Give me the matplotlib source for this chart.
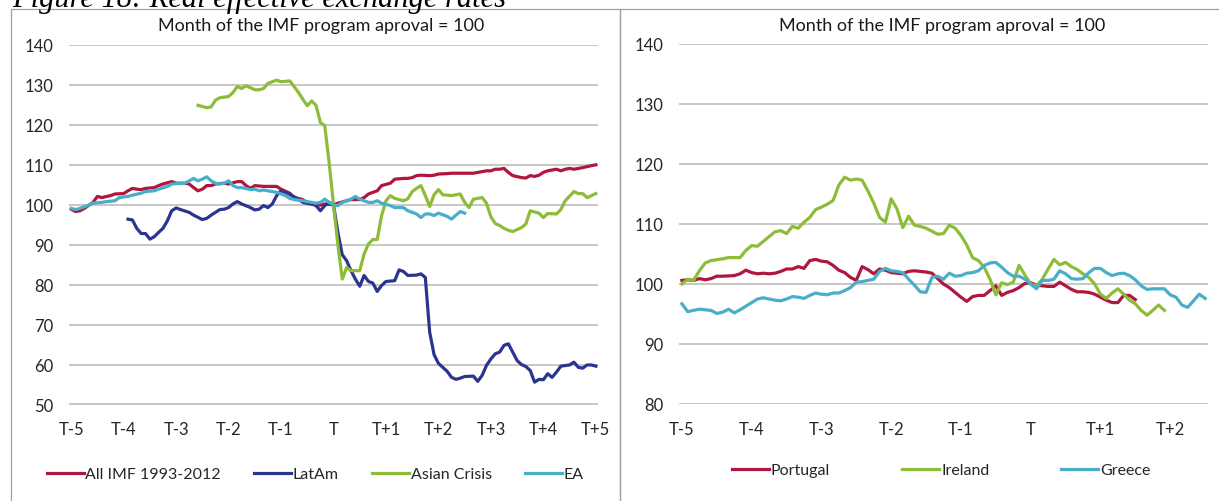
import matplotlib
matplotlib.use("Agg")
import matplotlib.pyplot as plt
from matplotlib.patches import Rectangle

plt.rcParams['font.family'] = ['Lato', 'DejaVu Sans']

# months relative to programme approval (T = 0), index = 100 at T
imf_m = [-60, -59, -58, -57, -55, -54, -53, -51, -50, -48, -47, -46, -45, -44, -43, -41, -40, -39, -37, -36,
         -34, -33, -32, -31, -30, -29, -28, -27, -25, -24, -22, -21, -20, -19, -18, -16, -14, -13, -12, -10,
         -9, -7, -6, -5, -3, -2, 0, 1, 3, 4, 6, 7, 8, 10, 11, 13, 14, 16, 17, 18,
         19, 20, 22, 23, 24, 26, 27, 29, 30, 32, 33, 35, 36, 37, 38, 39, 40, 41, 43, 44,
         45, 46, 47, 48, 49, 51, 52, 53, 54, 55, 56, 57, 59, 60]
imf_v = [98.9, 98.3, 98.5, 99.1, 100.6, 102.1, 101.8, 102.3, 102.7, 102.8, 103.5, 104.1, 103.9, 103.8, 104.1, 104.3, 104.8, 105.2, 105.8, 105.4,
         105.4, 105.2, 104.3, 103.5, 103.9, 104.8, 104.8, 105.2, 105.4, 105.2, 105.8, 105.8, 104.8, 104.1, 104.8, 104.6, 104.6, 104.6, 103.9, 102.9,
         101.8, 101.3, 100.4, 100.2, 99.9, 100.2, 100.0, 100.4, 101.0, 101.3, 101.3, 101.8, 102.7, 103.5, 104.8, 105.4, 106.4, 106.6, 106.6, 106.8,
         107.3, 107.4, 107.3, 107.4, 107.7, 107.8, 107.9, 107.9, 107.9, 107.9, 108.1, 108.5, 108.5, 108.9, 108.9, 109.1, 108.1, 107.3, 106.8, 106.7,
         107.3, 107.1, 107.4, 108.1, 108.5, 108.9, 108.5, 108.9, 109.1, 108.9, 109.1, 109.3, 109.8, 110.0]

latam_m = [-47, -46, -45, -44, -43, -42, -41, -40, -39, -38, -37, -36, -35, -33, -32, -30, -29, -28, -26, -25,
           -24, -23, -22, -21, -19, -18, -17, -16, -15, -14, -13, -12, -11, -10, -8, -7, -5, -4, -3, -2,
           -1, 0, 1, 2, 3, 4, 5, 6, 7, 8, 9, 10, 11, 12, 14, 15, 16, 17, 19, 20,
           21, 22, 23, 24, 25, 26, 27, 28, 29, 30, 32, 33, 34, 35, 36, 37, 38, 39, 40, 41,
           42, 43, 44, 45, 46, 47, 48, 49, 50, 51, 52, 54, 55, 56, 57, 58, 59, 60]
latam_v = [96.4, 96.2, 94.1, 92.8, 92.8, 91.4, 92.0, 93.1, 94.1, 96.0, 98.5, 99.2, 98.8, 98.1, 97.4, 96.3, 96.6, 97.4, 98.8, 98.9,
           99.3, 100.2, 100.8, 100.2, 99.3, 98.7, 98.9, 99.8, 99.3, 100.2, 102.3, 103.5, 103.1, 102.6, 101.4, 100.6, 100.2, 99.8, 98.5, 99.8,
           100.6, 100.0, 93.1, 87.5, 86.0, 83.5, 81.4, 79.6, 82.3, 80.8, 80.4, 78.3, 79.8, 80.8, 81.0, 83.7, 83.3, 82.3, 82.4, 82.7,
           81.8, 68.1, 62.5, 60.3, 59.3, 58.3, 56.8, 56.3, 56.6, 57.0, 57.1, 55.8, 57.3, 59.8, 61.4, 62.7, 63.1, 64.8, 65.2, 63.1,
           61.0, 60.0, 59.5, 58.5, 55.6, 56.3, 56.2, 57.7, 56.8, 58.1, 59.6, 59.9, 60.6, 59.3, 59.1, 59.9, 59.9, 59.6]

asia_m = [-31, -29, -28, -27, -26, -24, -23, -22, -21, -20, -18, -17, -16, -15, -13, -12, -10, -9, -8, -7,
          -6, -5, -4, -3, -2, -1, 0, 1, 2, 3, 4, 6, 7, 8, 9, 10, 11, 12, 13, 14,
          16, 17, 18, 19, 20, 21, 22, 23, 24, 25, 27, 29, 30, 31, 32, 34, 35, 36, 37, 38,
          39, 40, 41, 42, 43, 44, 45, 47, 48, 49, 51, 52, 53, 55, 56, 57, 58, 60]
asia_v = [124.9, 124.3, 124.5, 126.2, 126.8, 127.1, 128.1, 129.6, 129.1, 129.8, 128.8, 128.8, 129.1, 130.4, 131.2, 130.8, 131.0, 129.6, 128.1, 126.4,
          124.8, 126.0, 124.9, 120.6, 119.8, 110.6, 100.0, 90.0, 81.4, 84.3, 83.5, 83.5, 87.7, 90.2, 91.3, 91.3, 97.3, 101.0, 102.3, 101.6,
          101.0, 101.5, 103.3, 104.1, 104.8, 102.3, 99.6, 102.5, 103.8, 102.5, 102.3, 102.7, 100.6, 99.3, 101.4, 101.8, 100.4, 97.0, 95.3, 94.8,
          94.1, 93.6, 93.3, 93.8, 94.3, 95.2, 98.5, 97.9, 96.8, 97.8, 97.7, 98.8, 101.0, 103.3, 102.8, 102.8, 101.8, 102.8]

ea_m = [-60, -59, -58, -56, -55, -53, -52, -50, -49, -47, -46, -44, -43, -41, -40, -38, -37, -36, -34, -33,
        -32, -31, -30, -29, -28, -27, -26, -25, -24, -23, -22, -21, -19, -18, -17, -16, -14, -13, -11, -10,
        -9, -7, -6, -5, -4, -3, -2, -1, 0, 1, 2, 4, 5, 6, 8, 9, 10, 11, 13, 14,
        16, 17, 19, 20, 21, 22, 23, 24, 26, 27, 28, 29, 30]
ea_v = [99.1, 98.8, 99.1, 99.9, 100.4, 100.6, 100.8, 101.0, 101.8, 102.1, 102.4, 102.9, 103.3, 103.5, 103.9, 104.6, 105.2, 105.3, 105.4, 106.0,
        106.6, 106.0, 106.4, 107.0, 106.0, 105.4, 105.2, 105.4, 106.0, 104.8, 104.3, 104.3, 103.8, 103.9, 103.5, 103.7, 103.3, 103.1, 102.3, 101.6,
        101.3, 101.0, 100.8, 100.6, 100.4, 100.6, 101.4, 100.6, 100.0, 99.8, 100.6, 101.4, 102.1, 101.4, 100.6, 100.6, 101.0, 100.4, 99.8, 99.3,
        99.3, 98.5, 97.7, 96.8, 97.7, 97.7, 97.3, 97.9, 97.1, 96.4, 97.4, 98.3, 97.9]

# right panel
por_m = [-60, -59, -58, -57, -56, -55, -54, -53, -51, -50, -49, -48, -47, -46, -45, -44, -43, -42, -41, -40,
         -39, -38, -37, -36, -35, -34, -33, -32, -31, -30, -29, -28, -27, -26, -25, -24, -23, -22, -21, -20,
         -19, -18, -17, -16, -15, -14, -13, -12, -11, -10, -9, -8, -7, -6, -5, -4, -3, -2, -1, 0,
         1, 2, 3, 4, 5, 6, 7, 8, 9, 10, 11, 12, 13, 14, 15, 16, 17, 18]
por_v = [100.6, 100.7, 100.6, 100.9, 100.7, 100.9, 101.3, 101.3, 101.4, 101.7, 102.3, 101.9, 101.7, 101.8, 101.7, 101.8, 102.1, 102.5, 102.5, 102.9,
         102.6, 103.9, 104.1, 103.8, 103.7, 103.1, 102.3, 101.9, 101.1, 100.6, 102.9, 102.4, 101.7, 102.5, 102.3, 101.9, 101.8, 101.7, 102.1, 102.2,
         102.1, 102.0, 101.8, 100.9, 100.0, 99.4, 98.6, 97.8, 97.1, 97.9, 98.1, 98.1, 98.9, 99.7, 98.1, 98.6, 98.9, 99.4, 100.1, 100.2,
         99.8, 99.7, 99.6, 99.6, 100.3, 99.7, 99.1, 98.7, 98.7, 98.6, 98.3, 97.8, 97.3, 96.9, 96.9, 98.1, 98.1, 97.4]

ire_m = [-60, -59, -58, -57, -56, -55, -53, -52, -51, -50, -49, -48, -47, -46, -45, -44, -43, -42, -41, -40,
         -39, -38, -37, -36, -35, -34, -33, -32, -31, -30, -29, -28, -27, -26, -25, -24, -23, -22, -21, -20,
         -19, -18, -17, -16, -15, -14, -13, -12, -11, -10, -9, -8, -7, -6, -5, -4, -3, -2, -1, 0,
         1, 2, 3, 4, 5, 6, 7, 8, 9, 10, 11, 12, 13, 14, 15, 16, 17, 18, 19, 20,
         21, 22, 23]
ire_v = [100.0, 100.8, 100.6, 102.2, 103.5, 103.9, 104.2, 104.4, 104.4, 104.4, 105.6, 106.4, 106.3, 107.1, 107.9, 108.7, 108.9, 108.4, 109.6, 109.3,
         110.3, 111.1, 112.4, 112.8, 113.3, 113.9, 116.5, 117.8, 117.3, 117.5, 117.3, 115.5, 113.5, 111.1, 110.3, 114.2, 112.5, 109.4, 111.3, 109.8,
         109.6, 109.3, 108.8, 108.3, 108.4, 109.8, 109.3, 108.1, 106.5, 104.4, 103.9, 102.8, 100.8, 98.2, 100.2, 99.9, 100.3, 103.1, 101.5, 100.0,
         99.7, 100.8, 102.5, 104.1, 103.2, 103.6, 102.9, 102.4, 101.7, 101.1, 100.0, 98.3, 97.6, 98.5, 99.2, 98.3, 97.3, 96.7, 95.6, 94.8,
         95.6, 96.5, 95.6]

gre_m = [-60, -59, -58, -57, -56, -55, -54, -53, -52, -51, -50, -49, -48, -47, -46, -45, -44, -43, -42, -41,
         -40, -39, -38, -37, -36, -35, -34, -33, -32, -31, -30, -29, -28, -27, -26, -25, -24, -23, -22, -21,
         -20, -19, -18, -17, -16, -15, -14, -13, -12, -11, -10, -9, -8, -7, -6, -5, -4, -3, -2, -1,
         0, 1, 2, 3, 4, 5, 6, 7, 8, 9, 10, 11, 12, 13, 14, 15, 16, 17, 18, 19,
         20, 21, 22, 23, 24, 25, 26, 27, 28, 29, 30]
gre_v = [96.7, 95.4, 95.6, 95.8, 95.7, 95.6, 95.1, 95.3, 95.8, 95.2, 95.7, 96.3, 96.9, 97.5, 97.7, 97.5, 97.3, 97.2, 97.5, 97.9,
         97.8, 97.6, 98.1, 98.5, 98.3, 98.2, 98.5, 98.5, 98.9, 99.4, 100.3, 100.4, 100.6, 100.8, 102.1, 102.6, 102.2, 102.1, 101.9, 100.8,
         99.8, 98.7, 98.6, 101.1, 101.3, 100.8, 101.8, 101.3, 101.4, 101.8, 101.9, 102.2, 103.1, 103.5, 103.6, 102.8, 101.9, 101.3, 101.3, 100.8,
         100.0, 99.2, 100.6, 100.6, 100.8, 102.2, 101.7, 100.9, 100.8, 100.9, 101.9, 102.6, 102.6, 101.9, 101.4, 101.7, 101.8, 101.4, 100.7, 99.7,
         99.1, 99.2, 99.2, 99.2, 98.2, 97.8, 96.5, 96.1, 97.2, 98.3, 97.6]

left_ticks = ["T-5", "T-4", "T-3", "T-2", "T-1", "T", "T+1", "T+2", "T+3", "T+4", "T+5"]
right_ticks = ["T-5", "T-4", "T-3", "T-2", "T-1", "T", "T+1", "T+2"]

RED = '#B0163E'
NAVY = '#2B348F'
GREEN = '#8DBC38'
CYAN = '#48AECA'
GRID = '#B8B8B8'
TXT = '#262626'

W, H = 1219, 502
fig = plt.figure(figsize=(W / 100, H / 100), dpi=100)


def px(x0, y_top, x1, y_bot):
    return [x0 / W, 1 - y_bot / H, (x1 - x0) / W, (y_bot - y_top) / H]


# panel frames (bottom/right edges run off the page)
for x0, x1 in [(11, 619.5), (619.5, 1240)]:
    fig.patches.append(Rectangle((x0 / W, -0.1), (x1 - x0) / W, 1.1 - 10 / H, transform=fig.transFigure,
                                 fill=False, edgecolor='#A0A0A0', lw=0.9))

# caption, cut off by the top of the crop
fig.text(12 / W, 1 - 7 / H, "Figure 18: Real effective exchange rates", family='Liberation Serif',
         style='italic', fontsize=22, va='baseline', ha='left')

axL = fig.add_axes(px(69, 46, 598, 405.5))
axR = fig.add_axes(px(679, 45, 1208, 405))


def style(ax, lo, hi, nmonths, labels):
    ax.set_xlim(-60.5, nmonths - 0.5 - 60)
    ax.set_ylim(lo, hi)
    ax.set_yticks(range(lo, hi + 1, 10))
    ax.set_xticks(range(-60, 12 * (len(labels) - 6) + 1, 12))
    ax.set_xticklabels(labels)
    for s in ax.spines.values():
        s.set_visible(False)
    ax.tick_params(length=0, labelsize=12, colors=TXT)
    ax.tick_params(axis='y', pad=11.5)
    ax.tick_params(axis='x', pad=12)
    ax.grid(axis='y', color=GRID, lw=1.1)
    ax.set_axisbelow(True)


style(axL, 50, 140, 121, left_ticks)
style(axR, 80, 140, 91, right_ticks)

lw = 2.3
axL.plot(imf_m, imf_v, color=RED, lw=lw, label="All IMF 1993-2012")
axL.plot(latam_m, latam_v, color=NAVY, lw=lw, label="LatAm")
axL.plot(asia_m, asia_v, color=GREEN, lw=lw, label="Asian Crisis")
axL.plot(ea_m, ea_v, color=CYAN, lw=lw, label="EA")

axR.plot(por_m, por_v, color=RED, lw=lw, label="Portugal")
axR.plot(ire_m, ire_v, color=GREEN, lw=lw, label="Ireland")
axR.plot(gre_m, gre_v, color=CYAN, lw=lw, label="Greece")

title = "Month of the IMF program aproval = 100"
fig.text(321 / W, 1 - 25.5 / H, title, ha='center', va='center', fontsize=13, color='#1A1A1A')
fig.text(942 / W, 1 - 25.5 / H, title, ha='center', va='center', fontsize=13, color='#1A1A1A')

fs = 11.5
fpx = fs * 100 / 72
axL.legend(loc='center left', bbox_to_anchor=(46.5 / W, 1 - 475 / H), bbox_transform=fig.transFigure,
           ncol=4, frameon=False, fontsize=fs, handlelength=37 / fpx, handletextpad=0.12,
           columnspacing=33 / fpx, borderpad=0, borderaxespad=0, labelcolor=TXT)
axR.legend(loc='center left', bbox_to_anchor=(732 / W, 1 - 471 / H), bbox_transform=fig.transFigure,
           ncol=3, frameon=False, fontsize=fs, handlelength=37 / fpx, handletextpad=0.12,
           columnspacing=72 / fpx, borderpad=0, borderaxespad=0, labelcolor=TXT)

fig.savefig("out.png", dpi=100)
